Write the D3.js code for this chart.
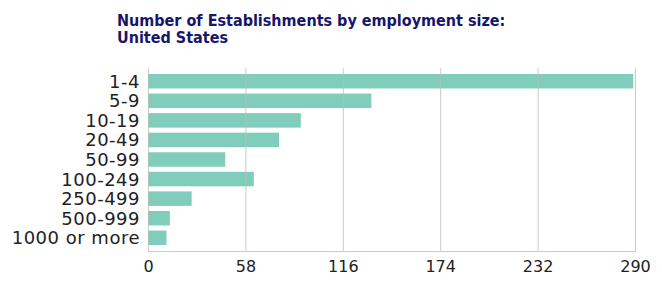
<!DOCTYPE html>
<html>
<head>
<meta charset="utf-8">
<script src="https://cdn.jsdelivr.net/npm/d3@7"></script>
<style>
  body { margin: 0; background: #fff; }
</style>
</head>
<body>
<div id="chart_area"></div>
<script>
// chart data
var categories = ["1-4", "5-9", "10-19", "20-49", "50-99", "100-249", "250-499", "500-999", "1000 or more"];
var establishments = [289, 133, 91, 78, 46, 63, 26, 13, 11];
var tickValues = [0, 58, 116, 174, 232, 290];
var titleLines = ["Number of Establishments by employment size:", "United States"];

(function(){
  var margin = {top: 68, right: 27, bottom: 35, left: 148},
      width = 662 - margin.left - margin.right,
      height = 286 - margin.top - margin.bottom;

  var svg = d3.select("#chart_area")
      .append("svg")
          .attr("width", 662)
          .attr("height", 286);

  // title, one text per line
  svg.selectAll(".title")
      .data(titleLines)
      .enter().append("text")
      .attr("class", "title")
      .attr("x", 117)
      .attr("y", function(d, i) { return 26 + i * 17; })
      .attr("fill", "#16166b")
      .style("font-family", "'DejaVu Sans Condensed', 'DejaVu Sans', sans-serif")
      .style("font-weight", "bold")
      .style("font-size", "16px")
      .text(function(d) { return d; });

  var g = svg.append("g")
      .attr("transform", "translate(" + margin.left + "," + margin.top + ")");

  var x = d3.scaleLinear().domain([0, 290]).range([0, width]);
  var y = d3.scaleBand().domain(categories).range([6, 177]).paddingInner(0.26).paddingOuter(0);

  // bars
  g.selectAll(".bar")
      .data(establishments)
      .enter().append("rect")
      .attr("class", "bar")
      .attr("x", 0)
      .attr("y", function(d, i) { return y(categories[i]); })
      .attr("width", function(d) { return x(d); })
      .attr("height", y.bandwidth())
      .attr("fill", "#7fcdba");

  // gridlines (drawn over the bars like the original)
  g.selectAll(".grid")
      .data(tickValues)
      .enter().append("line")
      .attr("x1", function(d) { return x(d) + 0.5; })
      .attr("x2", function(d) { return x(d) + 0.5; })
      .attr("y1", 0)
      .attr("y2", height)
      .attr("stroke", "#bdbdbd")
      .attr("stroke-opacity", 0.8)
      .attr("stroke-width", 1);

  // bottom baseline
  g.append("line")
      .attr("x1", 0).attr("x2", width + 1)
      .attr("y1", height + 0.5).attr("y2", height + 0.5)
      .attr("stroke", "#cccccc");

  // x axis labels
  var xAxis = g.append("g")
      .attr("transform", "translate(0," + height + ")")
      .call(d3.axisBottom(x).tickValues(tickValues).tickSize(0).tickPadding(10));
  xAxis.select(".domain").remove();
  xAxis.selectAll("text")
      .attr("fill", "#222")
      .style("font-family", "'DejaVu Sans', sans-serif")
      .style("font-size", "16px");

  // y axis labels
  var yAxis = g.append("g")
      .call(d3.axisLeft(y).tickSize(0).tickPadding(8));
  yAxis.select(".domain").remove();
  yAxis.selectAll("text")
      .attr("fill", "#222")
      .attr("dy", "0.36em")
      .style("font-family", "'DejaVu Sans', sans-serif")
      .style("font-size", "18px")
      .style("letter-spacing", "0.5px");
})()
</script>
</body>
</html>
